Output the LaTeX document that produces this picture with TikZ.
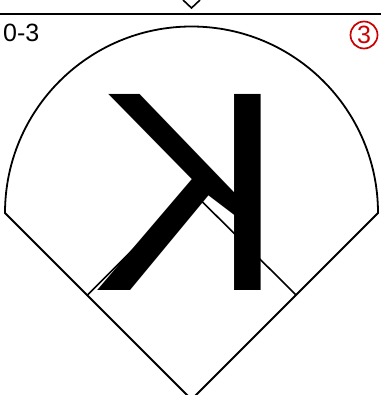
\documentclass[tikz,border=0pt]{standalone}
\usepackage{fontspec}
\setmainfont{Liberation Sans}
\begin{document}
\begin{tikzpicture}[x=1pt,y=-1pt,
  ln/.style={draw=black,line width=1.8pt,line join=miter},
  thin/.style={draw=black,line width=1.6pt}]
\useasboundingbox (0,0) rectangle (381,395);
% coordinates
\coordinate (tl) at (0,14);
\coordinate (tr) at (381,14);
\coordinate (va) at (183,0);
\coordinate (vb) at (191.5,8);
\coordinate (vc) at (200,0);
\coordinate (L) at (5,213);
\coordinate (R) at (378,213);
\coordinate (B) at (191.5,399.5);
\coordinate (IL) at (87,295.5);
\coordinate (IR) at (296,295);
\coordinate (IA) at (191.5,191);
% top line and chevron
\draw[ln] (tl) -- (tr);
\draw[thin] (va) -- (vb) -- (vc);
% field outline
\draw[ln] (B) -- (L) arc[start angle=180,end angle=360,radius=186.5] -- (B);
% inner diamond
\draw[thin] (IL) -- (IA) -- (IR);
% mirrored K
\node[anchor=base,inner sep=0pt,font=\fontsize{285}{285}\selectfont] (k) at (189,290) {\scalebox{-1}[1]{K}};
% labels
\node[anchor=base west,inner sep=0pt,font=\fontsize{25}{25}\selectfont] (score) at (3,42) {0-3};
\node[circle,draw=red!80!black,text=red!80!black,line width=1.7pt,minimum size=27pt,inner sep=0pt,font=\fontsize{25}{25}\selectfont] (num) at (364,35) {3};
\end{tikzpicture}
\end{document}
